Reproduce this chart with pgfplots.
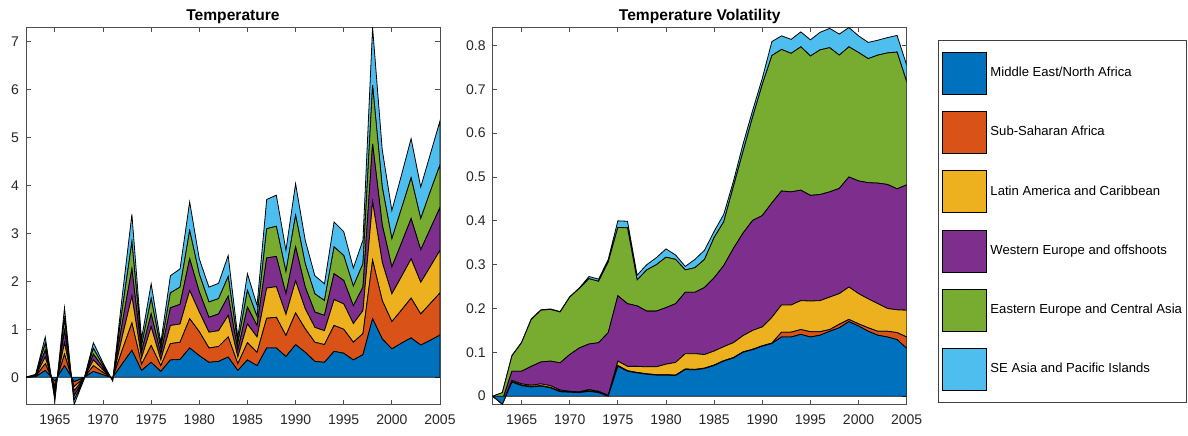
\documentclass[border=0pt]{standalone}
\usepackage{fontspec}
\setmainfont{Liberation Sans}
\usepackage{pgfplots}
\usepackage{pgfplotstable}
\pgfplotsset{compat=1.18}
\definecolor{c1}{rgb}{0,0.447,0.741}
\definecolor{c2}{rgb}{0.850,0.325,0.098}
\definecolor{c3}{rgb}{0.929,0.694,0.125}
\definecolor{c4}{rgb}{0.494,0.184,0.556}
\definecolor{c5}{rgb}{0.466,0.674,0.188}
\definecolor{c6}{rgb}{0.301,0.745,0.933}

\pgfplotstableread{
year me ssa lac weo eeca seap
1962 0 0 0 0 0 0
1963 0.01 0.01 0.01 0.01 0.01 0.01
1964 0.14 0.14 0.14 0.14 0.14 0.14
1965 -0.08 -0.09 -0.08 -0.08 -0.09 -0.08
1966 0.24 0.24 0.24 0.25 0.24 0.24
1967 -0.09 -0.10 -0.09 -0.10 -0.09 -0.10
1968 -0.01 -0.01 -0.01 -0.01 -0.01 -0.01
1969 0.12 0.12 0.12 0.12 0.12 0.12
1970 0.05 0.05 0.05 0.05 0.05 0.05
1971 -0.01 -0.01 -0.02 -0.01 -0.02 -0.01
1972 0.28 0.29 0.28 0.28 0.29 0.28
1973 0.56 0.57 0.56 0.57 0.56 0.58
1974 0.14 0.13 0.13 0.13 0.13 0.14
1975 0.31 0.35 0.39 0.27 0.32 0.31
1976 0.12 0.12 0.12 0.12 0.12 0.12
1977 0.36 0.34 0.38 0.37 0.31 0.36
1978 0.37 0.36 0.38 0.41 0.36 0.38
1979 0.61 0.61 0.59 0.66 0.59 0.60
1980 0.45 0.50 0.41 0.42 0.37 0.32
1981 0.31 0.30 0.33 0.31 0.32 0.31
1982 0.33 0.31 0.33 0.35 0.32 0.32
1983 0.42 0.42 0.45 0.40 0.41 0.44
1984 0.14 0.14 0.14 0.14 0.14 0.14
1985 0.36 0.36 0.39 0.35 0.35 0.35
1986 0.24 0.28 0.32 0.24 0.19 0.23
1987 0.61 0.62 0.63 0.63 0.61 0.61
1988 0.61 0.64 0.64 0.63 0.63 0.65
1989 0.43 0.44 0.44 0.43 0.46 0.45
1990 0.68 0.66 0.67 0.71 0.66 0.66
1991 0.52 0.49 0.42 0.45 0.49 0.49
1992 0.33 0.40 0.31 0.32 0.38 0.38
1993 0.31 0.37 0.29 0.32 0.31 0.35
1994 0.54 0.54 0.54 0.54 0.56 0.52
1995 0.50 0.50 0.53 0.49 0.52 0.50
1996 0.36 0.37 0.39 0.37 0.41 0.38
1997 0.47 0.44 0.48 0.49 0.49 0.49
1998 1.22 1.22 1.22 1.21 1.22 1.21
1999 0.80 0.80 0.80 0.78 0.79 0.78
2000 0.59 0.57 0.58 0.56 0.59 0.59
2001 0.71 0.69 0.70 0.70 0.72 0.70
2002 0.82 0.83 0.82 0.84 0.85 0.82
2003 0.67 0.65 0.66 0.68 0.65 0.66
2004 0.77 0.77 0.77 0.79 0.78 0.78
2005 0.88 0.88 0.89 0.89 0.89 0.92
}\tempdata

\pgfplotstableread{
year me ssa lac weo eeca seap
1962 0 0 0 0 0 0
1963 -0.018 0 0 0.008 0.018 0
1964 0.032 0.001 0.003 0.021 0.035 0.001
1965 0.024 0.001 0.003 0.029 0.065 0.001
1966 0.021 0.001 0.003 0.043 0.107 0.001
1967 0.023 0.001 0.004 0.050 0.118 0.001
1968 0.019 0.001 0.004 0.056 0.118 0.001
1969 0.010 0.001 0.003 0.062 0.116 0.001
1970 0.009 0.001 0.001 0.084 0.131 0.001
1971 0.008 0.001 0.001 0.100 0.136 0.001
1972 0.011 0.001 0.003 0.104 0.149 0.005
1973 0.008 0.001 0.002 0.111 0.140 0.005
1974 0.000 0.001 0.001 0.143 0.161 0.006
1975 0.068 0.002 0.010 0.149 0.156 0.015
1976 0.057 0.001 0.010 0.143 0.173 0.015
1977 0.053 0.001 0.014 0.138 0.059 0.011
1978 0.050 0.001 0.016 0.127 0.094 0.012
1979 0.048 0.001 0.018 0.127 0.106 0.016
1980 0.048 0.001 0.024 0.129 0.115 0.019
1981 0.047 0.001 0.029 0.134 0.101 0.010
1982 0.061 0.001 0.035 0.140 0.051 0.008
1983 0.060 0.001 0.036 0.140 0.056 0.019
1984 0.063 0.001 0.031 0.153 0.064 0.021
1985 0.070 0.001 0.032 0.167 0.092 0.014
1986 0.080 0.001 0.032 0.185 0.100 0.017
1987 0.087 0.001 0.034 0.215 0.141 0.012
1988 0.100 0.001 0.037 0.234 0.186 0.017
1989 0.106 0.001 0.043 0.251 0.236 0.015
1990 0.114 0.001 0.043 0.254 0.299 0.014
1991 0.120 0.001 0.059 0.261 0.336 0.032
1992 0.135 0.011 0.062 0.260 0.323 0.031
1993 0.135 0.011 0.062 0.258 0.316 0.032
1994 0.141 0.011 0.066 0.252 0.327 0.034
1995 0.135 0.012 0.070 0.241 0.318 0.037
1996 0.139 0.008 0.071 0.242 0.330 0.040
1997 0.148 0.004 0.074 0.240 0.329 0.044
1998 0.156 0.008 0.070 0.240 0.304 0.048
1999 0.170 0.005 0.074 0.251 0.297 0.044
2000 0.160 0.005 0.069 0.257 0.293 0.038
2001 0.148 0.008 0.066 0.265 0.283 0.037
2002 0.139 0.009 0.063 0.275 0.292 0.034
2003 0.135 0.013 0.052 0.283 0.300 0.035
2004 0.129 0.016 0.052 0.276 0.312 0.038
2005 0.109 0.026 0.061 0.286 0.235 0.038
}\voldata

\pgfplotsset{
  matlab/.style={
    scale only axis, width=207pt, height=188.5pt,
    xmin=1962, xmax=2005,
    xtick={1965,1970,...,2005},
    xticklabel style={/pgf/number format/1000 sep={}, yshift=-1.5pt},
    /pgf/number format/assume math mode=true,
    axis line style={black!70, line width=0.4pt},
    tick style={black!70, line width=0.4pt},
    major tick length=2.3pt,
    tick align=inside,
    xtick pos=both, ytick pos=both,
    ticklabel style={font=\fontsize{7}{8}\selectfont, text=black!85},
    title style={font=\bfseries\fontsize{7.8}{9}\selectfont, yshift=-7.5pt},
    stack plots=y,
    every axis plot/.append style={draw=black, line width=0.4pt},
    legend image code/.code={\draw[##1] (0pt,-10.5pt) rectangle (22pt,10.5pt);},
  }
}

\begin{document}
\begin{tikzpicture}
\useasboundingbox (0,0) rectangle (594pt,217.5pt);
\begin{axis}[matlab, at={(13pt,15.25pt)}, anchor=south west,
  title={Temperature},
  ymin=-0.57, ymax=7.3, ytick={0,1,...,7}]
\addplot[fill=c1] table[x=year,y=me]{\tempdata} \closedcycle;
\addplot[fill=c2] table[x=year,y=ssa]{\tempdata} \closedcycle;
\addplot[fill=c3] table[x=year,y=lac]{\tempdata} \closedcycle;
\addplot[fill=c4] table[x=year,y=weo]{\tempdata} \closedcycle;
\addplot[fill=c5] table[x=year,y=eeca]{\tempdata} \closedcycle;
\addplot[fill=c6] table[x=year,y=seap]{\tempdata} \closedcycle;
\end{axis}
\begin{axis}[matlab, at={(246.35pt,15.25pt)}, anchor=south west,
  title={Temperature Volatility},
  ymin=-0.019, ymax=0.841, ytick={0,0.1,...,0.8},
  yticklabel style={/pgf/number format/fixed, /pgf/number format/precision=1},
  legend style={at={(1.0763,0.968)}, anchor=north west, draw=black!75,
    line width=0.4pt, font=\fontsize{6.55}{8}\selectfont,
    inner xsep=1.5pt, inner ysep=6pt, row sep=8.2pt, column sep=1.2pt,
    nodes={inner sep=0.8pt}},
  legend cell align=left]
\addplot[fill=c1] table[x=year,y=me]{\voldata} \closedcycle;
\addlegendentry{Middle East/North Africa}
\addplot[fill=c2] table[x=year,y=ssa]{\voldata} \closedcycle;
\addlegendentry{Sub-Saharan Africa}
\addplot[fill=c3] table[x=year,y=lac]{\voldata} \closedcycle;
\addlegendentry{Latin America and Caribbean}
\addplot[fill=c4] table[x=year,y=weo]{\voldata} \closedcycle;
\addlegendentry{Western Europe and offshoots}
\addplot[fill=c5] table[x=year,y=eeca]{\voldata} \closedcycle;
\addlegendentry{Eastern Europe and Central Asia}
\addplot[fill=c6] table[x=year,y=seap]{\voldata} \closedcycle;
\addlegendentry{SE Asia and Pacific Islands}
\end{axis}
\end{tikzpicture}
\end{document}
